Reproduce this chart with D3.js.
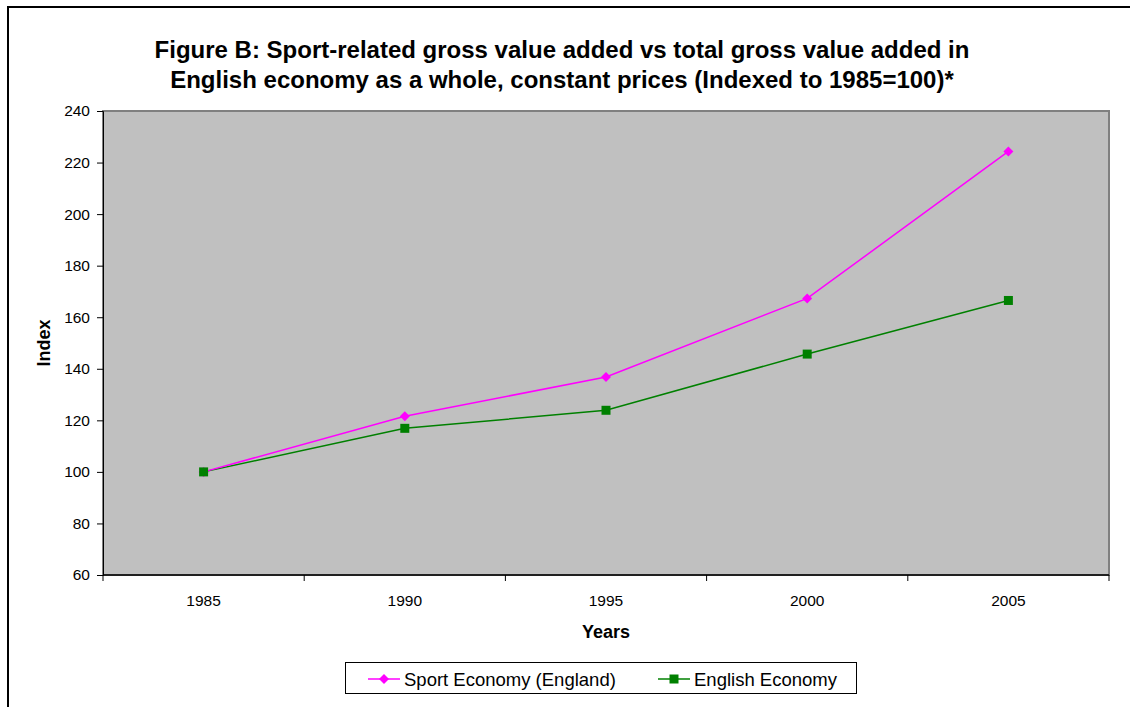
<!DOCTYPE html>
<html lang="en">
<head>
<meta charset="utf-8">
<title>Figure B</title>
<script src="https://cdn.jsdelivr.net/npm/d3@7/dist/d3.min.js"></script>
<style>
  body { margin: 0; background: #fff; }
  text { font-family: Arial, "Liberation Sans", sans-serif; fill: #000; }
</style>
</head>
<body>
<script>
// data
var years = ["1985", "1990", "1995", "2000", "2005"];
var sportEconomy = [100, 121.6, 136.8, 167.3, 224.3];
var englishEconomy = [100, 116.9, 123.9, 145.7, 166.5];
var yTicks = [60, 80, 100, 120, 140, 160, 180, 200, 220, 240];
var seriesNames = ["Sport Economy (England)", "English Economy"];

var w = 1130, h = 707;
var plot = { left: 103, top: 111, right: 1109, bottom: 575 };

var svg = d3.select("body").append("svg")
  .attr("width", w)
  .attr("height", h);

// outer chart border (runs off the page on right/bottom)
svg.append("rect")
  .attr("x", 8).attr("y", 7)
  .attr("width", 1300).attr("height", 900)
  .attr("fill", "#fff")
  .attr("stroke", "#000")
  .attr("stroke-width", 2);

var xScale = d3.scaleBand()
  .domain(years)
  .range([plot.left, plot.right]);

var yScale = d3.scaleLinear()
  .domain([60, 240])
  .range([plot.bottom, plot.top]);

// plot area
svg.append("rect")
  .attr("x", plot.left).attr("y", plot.top)
  .attr("width", plot.right - plot.left)
  .attr("height", plot.bottom - plot.top)
  .attr("fill", "#c0c0c0")
  .attr("stroke", "#808080")
  .attr("stroke-width", 2);

// y axis
var yAxis = d3.axisLeft(yScale)
  .tickValues(yTicks)
  .tickSize(6)
  .tickPadding(7);
var gy = svg.append("g")
  .attr("transform", "translate(" + plot.left + ",0)")
  .call(yAxis);
gy.attr("font-size", null).attr("font-family", null);
gy.select(".domain").attr("stroke", "#000").attr("stroke-width", 1);
gy.selectAll(".tick line").attr("stroke", "#000");
gy.selectAll(".tick text")
  .style("font-size", "15.5px");

// x axis (ticks between categories)
var gx = svg.append("g")
  .attr("transform", "translate(0," + plot.bottom + ")");
gx.append("line")
  .attr("x1", plot.left).attr("x2", plot.right)
  .attr("stroke", "#000").attr("stroke-width", 1.5);
var boundaries = years.map(function(d) { return xScale(d); }).concat([xScale.range()[1]]);
gx.selectAll(".xt")
  .data(boundaries)
  .enter().append("line")
  .attr("class", "xt")
  .attr("x1", function(d) { return d; })
  .attr("x2", function(d) { return d; })
  .attr("y1", 0).attr("y2", 6)
  .attr("stroke", "#000");
gx.selectAll(".xl")
  .data(years)
  .enter().append("text")
  .attr("class", "xl")
  .attr("x", function(d) { return xScale(d) + xScale.bandwidth() / 2; })
  .attr("y", 31)
  .attr("text-anchor", "middle")
  .style("font-size", "15.5px")
  .text(function(d) { return d; });

// axis titles
svg.append("text")
  .attr("x", (plot.left + plot.right) / 2)
  .attr("y", 638)
  .attr("text-anchor", "middle")
  .style("font-size", "18px")
  .attr("font-weight", "bold")
  .text("Years");

svg.append("text")
  .attr("transform", "translate(50," + ((plot.top + plot.bottom) / 2) + ") rotate(-90)")
  .attr("text-anchor", "middle")
  .style("font-size", "18px")
  .attr("font-weight", "bold")
  .text("Index");

// title
var title = svg.append("text")
  .attr("text-anchor", "middle")
  .style("font-size", "24px")
  .attr("font-weight", "bold");
title.append("tspan")
  .attr("x", 562).attr("y", 58)
  .text("Figure B: Sport-related gross value added vs total gross value added in");
title.append("tspan")
  .attr("x", 562).attr("y", 88)
  .text("English economy as a whole, constant prices (Indexed to 1985=100)*");

// lines
var line = d3.line()
  .x(function(d, i) { return xScale(years[i]) + xScale.bandwidth() / 2; })
  .y(function(d) { return yScale(d); });

svg.append("path")
  .datum(englishEconomy)
  .attr("d", line)
  .attr("fill", "none")
  .attr("stroke", "#008000")
  .attr("stroke-width", 1.5);

svg.append("path")
  .datum(sportEconomy)
  .attr("d", line)
  .attr("fill", "none")
  .attr("stroke", "#ff00ff")
  .attr("stroke-width", 1.5);

var diamond = function() { return "M0,-5L5,0L0,5L-5,0Z"; };
var square = function() { return "M-4.5,-4.5H4.5V4.5H-4.5Z"; };

svg.selectAll(".ms")
  .data(sportEconomy)
  .enter().append("path")
  .attr("class", "ms")
  .attr("d", diamond)
  .attr("transform", function(d, i) {
    return "translate(" + (xScale(years[i]) + xScale.bandwidth() / 2) + "," + yScale(d) + ")";
  })
  .attr("fill", "#ff00ff");

svg.selectAll(".me")
  .data(englishEconomy)
  .enter().append("path")
  .attr("class", "me")
  .attr("d", square)
  .attr("transform", function(d, i) {
    return "translate(" + (xScale(years[i]) + xScale.bandwidth() / 2) + "," + yScale(d) + ")";
  })
  .attr("fill", "#008000");

// legend
var legend = svg.append("g");
legend.append("rect")
  .attr("x", 345.5).attr("y", 662.5)
  .attr("width", 511).attr("height", 31)
  .attr("fill", "#fff")
  .attr("stroke", "#000");

var legendItems = [
  { name: seriesNames[0], color: "#ff00ff", sym: diamond, x: 368 },
  { name: seriesNames[1], color: "#008000", sym: square, x: 658 }
];
var li = legend.selectAll(".li")
  .data(legendItems)
  .enter().append("g")
  .attr("class", "li")
  .attr("transform", function(d) { return "translate(" + d.x + ",679)"; });
li.append("line")
  .attr("x1", 0).attr("x2", 32)
  .attr("stroke", function(d) { return d.color; })
  .attr("stroke-width", 1.5);
li.append("path")
  .attr("d", function(d) { return d.sym(); })
  .attr("transform", "translate(16,0)")
  .attr("fill", function(d) { return d.color; });
li.append("text")
  .attr("x", 36)
  .attr("y", 7)
  .style("font-size", "18.5px")
  .text(function(d) { return d.name; });
</script>
</body>
</html>
